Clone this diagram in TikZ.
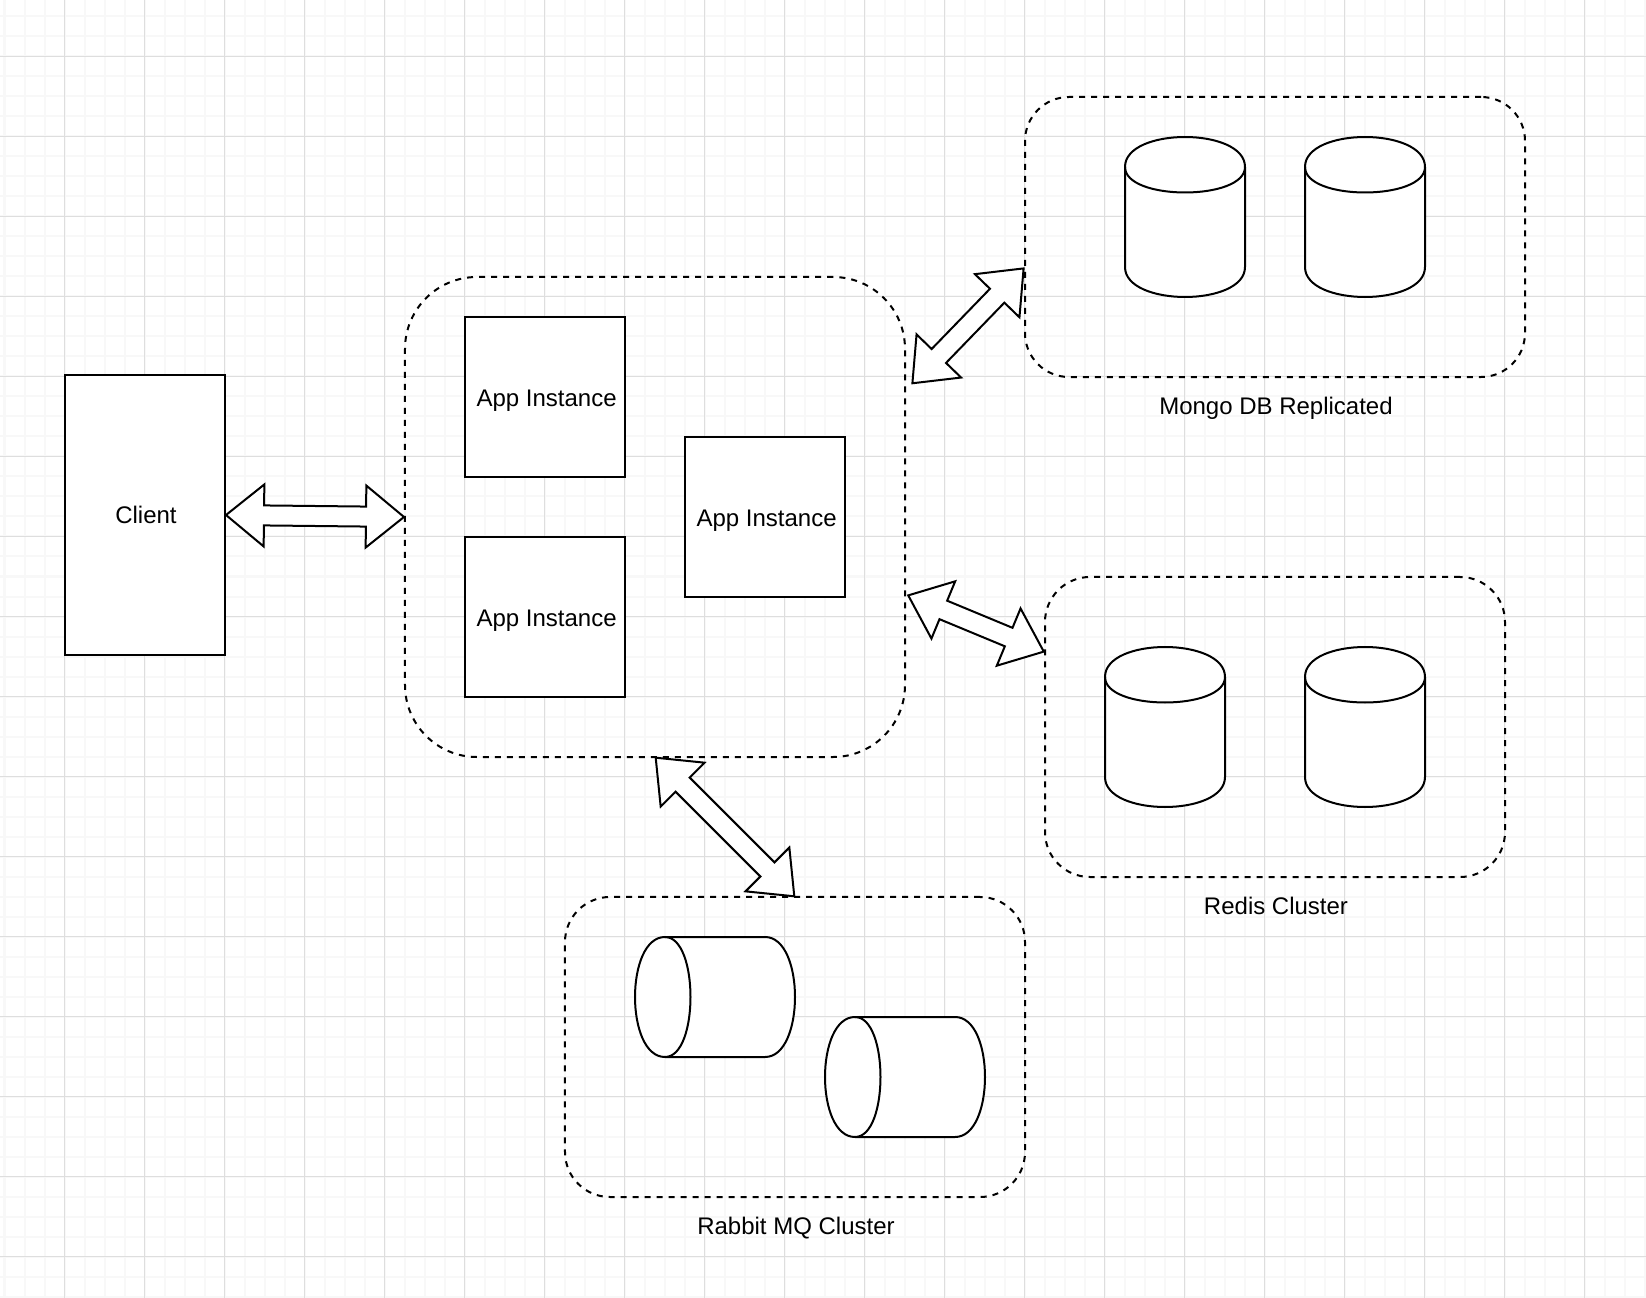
\documentclass[tikz,border=0pt]{standalone}
\usepackage{fontspec}
\setmainfont{Liberation Sans}
\usetikzlibrary{calc}
\definecolor{gridmajor}{HTML}{DEDEDE}
\definecolor{gridminor}{HTML}{F8F8F8}
\tikzset{
  every node/.style={font=\fontsize{12.045}{14}\selectfont, text=black, inner sep=0pt, outer sep=0pt},
  box/.style={draw=black, line width=1bp, fill=white, rectangle, minimum width=#1},
  appbox/.style={box=80bp, minimum height=80bp, text height=11bp, text depth=1.9bp},
  clientbox/.style={box=80bp, minimum height=140bp, text height=10.7bp, text depth=2bp},
  groupbox/.style={draw=black, line width=1bp, dash pattern=on 3bp off 3bp, rectangle},
  cyl/.style={draw=black, line width=1bp, fill=white},
  blockarrow/.style={draw=black, line width=1bp, fill=white, line join=miter, miter limit=10},
  caption/.style={anchor=center, text height=10bp, text depth=1.9bp}
}
% vertical cylinder, 120 x 160, top left corner at (#1,#2)
\newcommand{\vcylinder}[2]{%
  \begin{scope}[shift={(#1,#2)}]
    \draw[cyl] (0,30) .. controls (0,-10) and (120,-10) .. (120,30)
      -- (120,130) .. controls (120,170) and (0,170) .. (0,130) -- cycle;
    \draw[cyl, fill=none] (0,30) .. controls (0,64) and (120,64) .. (120,30);
  \end{scope}}
% horizontal cylinder, 160 x 120, top left corner at (#1,#2)
\newcommand{\hcylinder}[2]{%
  \begin{scope}[shift={(#1,#2)}]
    \draw[cyl] (30,0) .. controls (-10,0) and (-10,120) .. (30,120)
      -- (130,120) .. controls (170,120) and (170,0) .. (130,0) -- cycle;
    \draw[cyl, fill=none] (30,0) .. controls (64,0) and (64,120) .. (30,120);
  \end{scope}}
% double block arrow between two named points
\newcommand{\dblarrow}[2]{%
  \coordinate (t1) at ($(#1)!0.5bp!(#2)$);
  \coordinate (t2) at ($(#2)!0.5bp!(#1)$);
  \coordinate (h1) at ($(t1)!19bp!(t2)$);
  \coordinate (h2) at ($(t2)!19bp!(t1)$);
  \draw[blockarrow] (t1)
    -- ($(h1)!15.5bp!90:(t2)$) -- ($(h1)!5bp!90:(t2)$)
    -- ($(h2)!5bp!-90:(t1)$) -- ($(h2)!15.5bp!-90:(t1)$)
    -- (t2)
    -- ($(h2)!15.5bp!90:(t1)$) -- ($(h2)!5bp!90:(t1)$)
    -- ($(h1)!5bp!-90:(t2)$) -- ($(h1)!15.5bp!-90:(t2)$)
    -- cycle;}
\begin{document}
\begin{tikzpicture}[x=0.5bp,y=-0.5bp]
  \useasboundingbox (0,0) rectangle (1646,1298);
  \fill[white] (0,0) rectangle (1646,1298);
  % grid
  \foreach \k in {0,...,82} {\draw[gridminor, line width=1bp] ({4.5+20*\k},0) -- ({4.5+20*\k},1298);}
  \foreach \k in {0,...,64} {\draw[gridminor, line width=1bp] (0,{16.5+20*\k}) -- (1646,{16.5+20*\k});}
  \foreach \k in {0,...,20} {\draw[gridmajor, line width=0.5bp] ({64.5+80*\k},0) -- ({64.5+80*\k},1298);}
  \foreach \k in {0,...,15} {\draw[gridmajor, line width=0.5bp] (0,{56.5+80*\k}) -- (1646,{56.5+80*\k});}

  % groups
  \node[groupbox, rounded corners=36bp, minimum width=250bp, minimum height=240bp] (appgroup) at (655,517) {};
  \node[groupbox, rounded corners=22bp, minimum width=250bp, minimum height=140bp] (mongo) at (1275,237) {};
  \node[groupbox, rounded corners=22.5bp, minimum width=230bp, minimum height=150bp] (redis) at (1275,727) {};
  \node[groupbox, rounded corners=22.5bp, minimum width=230bp, minimum height=150bp] (rabbit) at (795,1047) {};

  % boxes
  \node[clientbox] (client) at (145,515) {\hspace*{1bp}Client};
  \node[appbox] (app1) at (545,397) {\hspace*{1.6bp}App Instance};
  \node[appbox] (app2) at (545,617) {\hspace*{1.6bp}App Instance};
  \node[appbox] (app3) at (765,517) {\hspace*{1.6bp}App Instance};

  % cylinders
  \vcylinder{1125}{137}
  \vcylinder{1305}{137}
  \vcylinder{1105}{647}
  \vcylinder{1305}{647}
  \hcylinder{635}{937}
  \hcylinder{825}{1017}

  % captions
  \node[caption] (mongolabel) at (1276,406) {Mongo DB Replicated};
  \node[caption] (redislabel) at (1276,906) {Redis Cluster};
  \node[caption] (rabbitlabel) at (796,1226) {Rabbit MQ Cluster};

  % connectors
  \dblarrow{client.east}{appgroup.west}
  \coordinate (mongoA) at (911.7,384);
  \coordinate (mongoB) at (1024.3,267.7);
  \dblarrow{mongoA}{mongoB}
  \coordinate (redisA) at (907.3,595);
  \coordinate (redisB) at (1044.7,652);
  \dblarrow{redisA}{redisB}
  \dblarrow{appgroup.south}{rabbit.north}
\end{tikzpicture}
\end{document}
